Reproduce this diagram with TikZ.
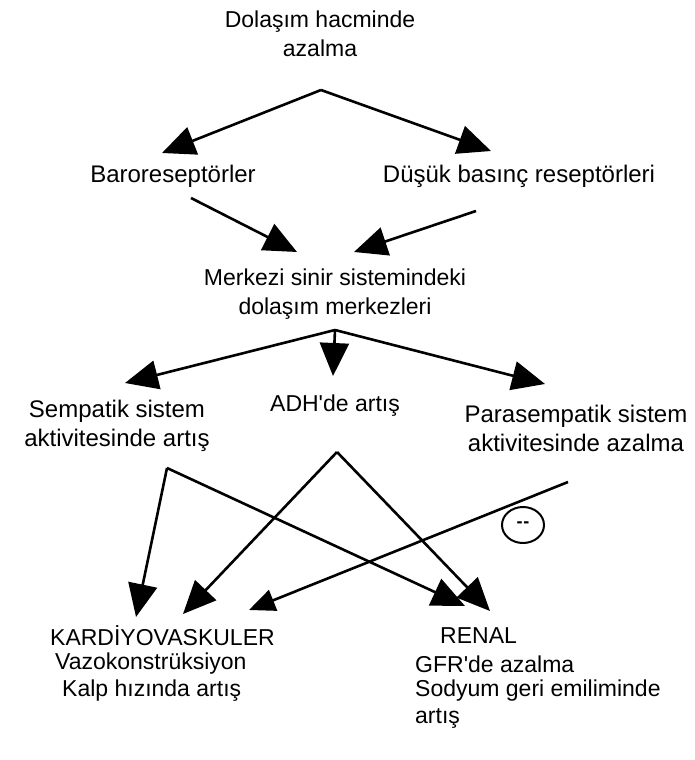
\documentclass[tikz,border=0pt]{standalone}
\usepackage{fontspec}
\setmainfont{Liberation Sans}[Ligatures=TeXOff]
\usetikzlibrary{arrows.meta,shapes.geometric}
\begin{document}
\begin{tikzpicture}[x=1pt,y=-1pt,
  lbl/.style={font=\fontsize{23}{29}\selectfont, inner sep=0pt, align=center},
  lblb/.style={font=\fontsize{24}{29}\selectfont, inner sep=0pt, align=center},
  lbll/.style={font=\fontsize{23}{29}\selectfont, inner sep=0pt, anchor=west},
  arr/.style={line width=2.6pt, -{Triangle[length=33pt,width=29pt]}},
  arrs/.style={line width=2.6pt, -{Triangle[length=26pt,width=22pt]}}]
\useasboundingbox (0,0) rectangle (695,760);
\fill[white] (0,0) rectangle (695,760);
% texts
\node[lbl] (top) at (320,34) {Dolaşım hacminde\\azalma};
\node[lblb] (baro) at (173,176) {Baroreseptörler};
\node[lblb] (dusuk) at (519,176) {Düşük basınç reseptörleri};
\node[lbl] (merk) at (335,294) {Merkezi sinir sistemindeki\\dolaşım merkezleri};
\node[lblb] (semp) at (117,426) {Sempatik sistem\\aktivitesinde artış};
\node[lbl] (adh) at (335,406) {ADH'de artış};
\node[lblb] (para) at (576,428) {Parasempatik sistem\\aktivitesinde azalma};
\node[lbll] (kard) at (50,636) {KARDİYOVASKULER};
\node[lbll] (vazo) at (55,664) {Vazokonstrüksiyon};
\node[lbll] (kalp) at (62,691) {Kalp hızında artış};
\node[lbll] (renal) at (440,636) {RENAL};
\node[lbll] (gfr) at (415,664) {GFR'de azalma};
\node[lbll] (sod) at (415,691) {Sodyum geri emiliminde};
\node[lbll] (art) at (415,718) {artış};
\node[ellipse, draw, line width=2pt, minimum width=42pt, minimum height=36pt, inner sep=0pt, font=\fontsize{18}{18}\selectfont\bfseries] (neg) at (523,525) {-\kern1pt-};
% coordinates
\coordinate (topA) at (321,90);
\coordinate (baroT) at (162,153);
\coordinate (dusT) at (491,151);
\coordinate (baroS) at (191,198);
\coordinate (dusS) at (476,211);
\coordinate (merkT1) at (297,252);
\coordinate (merkT2) at (354,252);
\coordinate (merkA) at (335,330);
\coordinate (sempT) at (125,383);
\coordinate (adhT) at (333,376);
\coordinate (paraT) at (545,384);
\coordinate (sempA) at (167,468);
\coordinate (adhA) at (337,452);
\coordinate (paraS) at (568,482);
\coordinate (kT1) at (136,617);
\coordinate (kT2) at (183,614);
\coordinate (kT3) at (249,610);
\coordinate (rT1) at (465,606);
\coordinate (rT2) at (490,611);
% arrows
\draw[arr] (topA) -- (baroT);
\draw[arr] (topA) -- (dusT);
\draw[arr] (baroS) -- (merkT1);
\draw[arr] (dusS) -- (merkT2);
\draw[arr] (merkA) -- (sempT);
\draw[arr] (merkA) -- (adhT);
\draw[arr] (merkA) -- (paraT);
\draw[arr] (sempA) -- (kT1);
\draw[arr] (sempA) -- (rT1);
\draw[arr] (adhA) -- (kT2);
\draw[arr] (adhA) -- (rT2);
\draw[arrs] (paraS) -- (kT3);
\end{tikzpicture}
\end{document}
